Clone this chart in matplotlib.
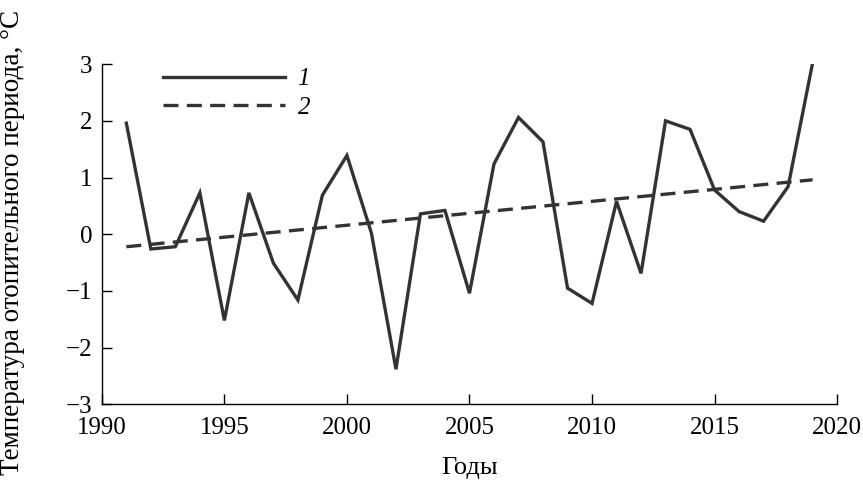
import matplotlib
matplotlib.use("Agg")
import matplotlib.pyplot as plt

plt.rcParams['font.family'] = ['Liberation Serif', 'DejaVu Serif']

# heating-season mean temperature, one value per year
years = list(range(1991, 2020))
temps = [1.96, -0.26, -0.22, 0.73, -1.52, 0.73, -0.51, -1.16, 0.69, 1.39,
         0.02, -2.38, 0.36, 0.42, -1.04, 1.24, 2.06, 1.63, -0.95, -1.22,
         0.58, -0.69, 2.00, 1.85, 0.78, 0.40, 0.23, 0.84, 3.02]

# linear trend end points
trend_years = [1991, 2019]
trend_vals = [-0.22, 0.96]

xticks = [1990, 1995, 2000, 2005, 2010, 2015, 2020]
yticks = [-3, -2, -1, 0, 1, 2, 3]

line_color = '#333333'

fig = plt.figure(figsize=(8.63, 4.86), dpi=100)
ax = fig.add_axes([0.118, 0.168, 0.852, 0.700])

ax.plot(years, temps, color=line_color, lw=2.4, solid_joinstyle='miter', label='1')
ax.plot(trend_years, trend_vals, color=line_color, lw=2.4, ls=(0, (4.5, 2.5)), label='2')

ax.set_xlim(1990, 2020)
ax.set_ylim(-3, 3)
ax.set_xticks(xticks)
ax.set_yticks(yticks)
ax.set_yticklabels(['\u22123', '\u22122', '\u22121', '0', '1', '2', '3'])
ax.tick_params(direction='in', length=7, width=1, labelsize=18)
ax.tick_params(axis='x', pad=9)
ax.tick_params(axis='y', pad=7)

for s in ['top', 'right']:
    ax.spines[s].set_visible(False)
for s in ['left', 'bottom']:
    ax.spines[s].set_linewidth(1)

ax.set_xlabel('Годы', fontsize=19)
ax.xaxis.set_label_coords(0.5, -0.155)
ax.set_ylabel('Температура отопительного периода, °С', fontsize=19.5)
ax.yaxis.set_label_coords(-0.104, 0.475)

leg = ax.legend(loc='upper left', bbox_to_anchor=(0.052, 1.055), frameon=False,
                handlelength=4.9, handletextpad=0.5, labelspacing=0.25,
                prop={'size': 18, 'style': 'italic'})

fig.savefig('out.png', dpi=100)
